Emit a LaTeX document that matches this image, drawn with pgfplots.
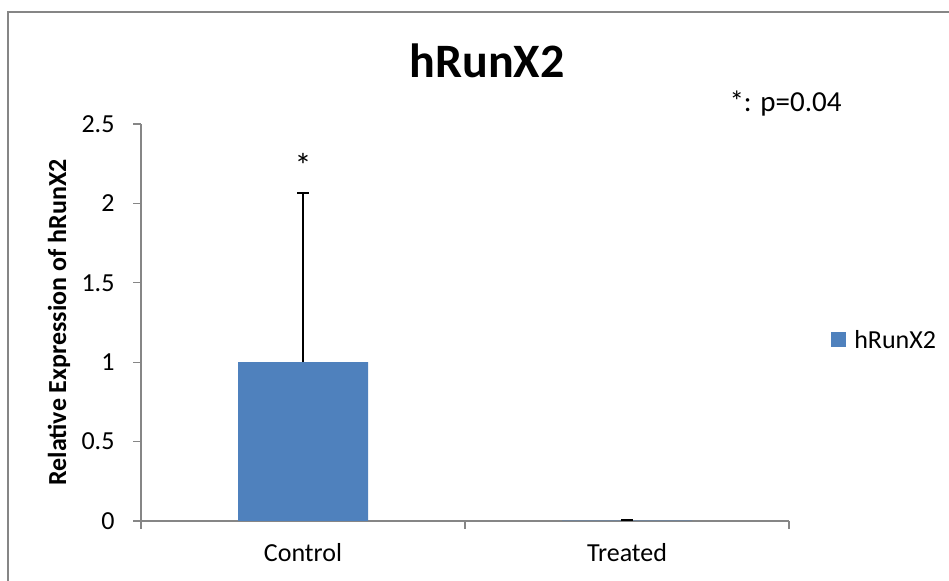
\documentclass[border=0pt]{standalone}
\usepackage{fontspec}
\setmainfont{Carlito}
\usepackage{pgfplots}
\pgfplotsset{compat=1.18}
\definecolor{barblue}{HTML}{4F81BD}
\definecolor{axisgray}{HTML}{868686}
\begin{document}
\begin{tikzpicture}[x=1bp,y=1bp]
\useasboundingbox (0,0) rectangle (949,581);
\clip (0,0) rectangle (949,581);
\draw[axisgray, line width=1.5bp] (8,-20) -- (8,569) -- (980,569);
\node[anchor=base, font=\fontsize{48bp}{56bp}\selectfont\bfseries] at (487,503) {hRunX2};
\node[anchor=base west, font=\fontsize{29bp}{34bp}\selectfont] at (726,469) {*: p=0.04};
\begin{axis}[
  at={(141bp,60bp)}, anchor=south west,
  scale only axis, width=648bp, height=397bp,
  xmin=-0.5, xmax=1.5, ymin=0, ymax=2.5,
  axis x line*=bottom, axis y line*=left,
  axis line style={draw=axisgray, line width=1.3bp},
  tick style={draw=axisgray, line width=1.3bp},
  tick align=outside, major tick length=8bp,
  xtick={-0.5,0.5,1.5}, xticklabels={},
  extra x ticks={0,1}, extra x tick labels={Control,Treated},
  extra x tick style={major tick length=0pt},
  ytick={0,0.5,1,1.5,2,2.5},
  /pgf/number format/assume math mode=true,
  ticklabel style={font=\fontsize{26bp}{31bp}\selectfont},
  yticklabel style={xshift=-15bp},
  xticklabel style={yshift=-19bp},
  ylabel={\bfseries Relative Expression of hRunX2},
  ylabel style={font=\fontsize{26bp}{31bp}\selectfont, at={(axis description cs:-0.1265,0.5)}, anchor=center},
  legend style={at={(rel axis cs:1.065,0.456)}, anchor=west, draw=none, fill=none,
    font=\fontsize{26bp}{31bp}\selectfont, inner sep=0pt},
  legend image code/.code={\fill[barblue] (0bp,-7.5bp) rectangle (15bp,7.5bp);},
  legend cell align=left,
  clip=false,
]
\addplot[ybar, bar width=130bp, fill=barblue, draw=none,
  error bars/.cd, y dir=plus, y explicit,
  error bar style={black, line width=1.3bp},
  error mark options={rotate=90, mark size=6bp, black, line width=1.3bp}]
  coordinates {(0,1.0) +- (0,1.065) (1,0.003) +- (0,0.004)};
\addlegendentry{\hspace*{6bp}hRunX2}
\node[anchor=center, font=\fontsize{34bp}{40bp}\selectfont] at (axis cs:0,2.24) {*};
\end{axis}
\end{tikzpicture}
\end{document}
